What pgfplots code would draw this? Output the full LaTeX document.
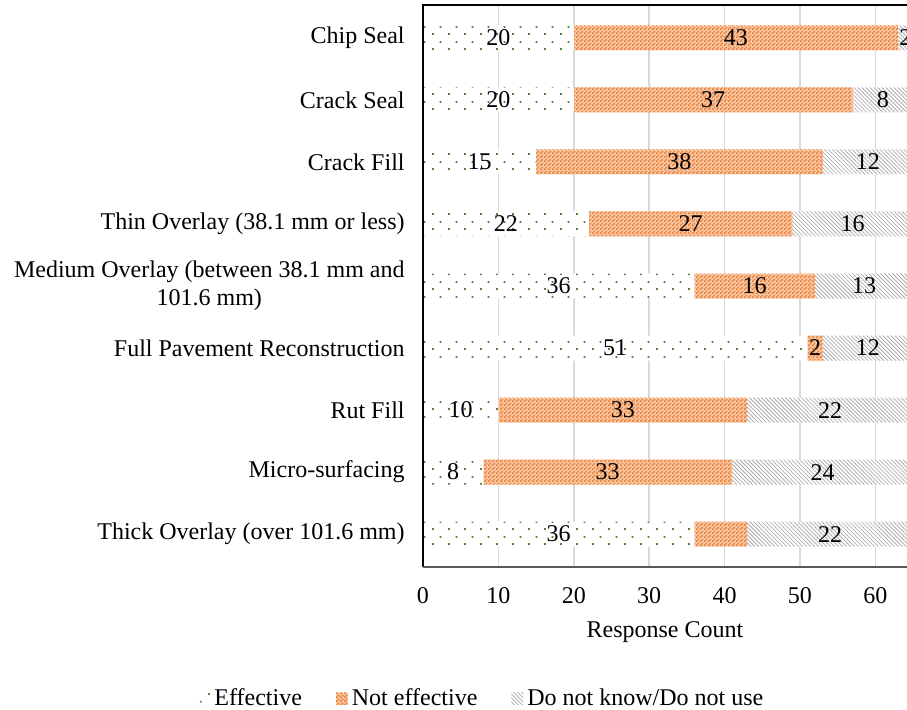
\documentclass[border=0pt]{standalone}
\usepackage{fontspec}
\setmainfont{Liberation Serif}
\usepackage{pgfplots}
\pgfplotsset{compat=1.18}
\usepackage{pgfplotstable}
\usetikzlibrary{patterns,patterns.meta}

\definecolor{orangeC}{RGB}{237,125,49}
\definecolor{greenC}{RGB}{84,130,53}
\definecolor{grayC}{RGB}{170,170,170}

\pgfdeclarepattern{
  name=effdots,
  type=uncolored,
  bottom left={\pgfpoint{0pt}{0pt}},
  top right={\pgfpoint{8pt}{7.5pt}},
  tile size={\pgfpoint{8pt}{7.5pt}},
  code={
    \pgfpathrectangle{\pgfpoint{0pt}{0pt}}{\pgfpoint{1pt}{1pt}}
    \pgfpathrectangle{\pgfpoint{4pt}{3.75pt}}{\pgfpoint{1pt}{1pt}}
    \pgfusepath{fill}
  }
}
\pgfdeclarepattern{
  name=checker,
  type=uncolored,
  bottom left={\pgfpoint{0pt}{0pt}},
  top right={\pgfpoint{2pt}{2pt}},
  tile size={\pgfpoint{2pt}{2pt}},
  code={
    \pgfpathrectangle{\pgfpoint{0pt}{0pt}}{\pgfpoint{1pt}{1pt}}
    \pgfpathrectangle{\pgfpoint{1pt}{1pt}}{\pgfpoint{1pt}{1pt}}
    \pgfusepath{fill}
  }
}

\pgfplotstableread{
pos eff not dk
0 20 43 2
1 20 37 8
2 15 38 12
3 22 27 16
4 36 16 13
5 51 2 12
6 10 33 22
7 8 33 24
8 36 7 22
}\datatable

\pgfplotstableread{
x y lab
10 0 20
41.5 0 43
64 0 2
10 1 20
38.5 1 37
61 1 8
7.5 2 15
34 2 38
59 2 12
11 3 22
35.5 3 27
57 3 16
18 4 36
44 4 16
58.5 4 13
25.5 5 51
52 5 2
59 5 12
5 6 10
26.5 6 33
54 6 22
4 7 8
24.5 7 33
53 7 24
18 8 36
54 8 22
}\labtable

\pgfplotsset{
  myleg/.style={legend image code/.code={\path[##1] (0pt,-3pt) rectangle (6pt,3pt);}},
}

\begin{document}
\fontsize{12}{14}\selectfont
\begin{tikzpicture}
\begin{axis}[
  name=main,
  scale only axis, width=242pt, height=281pt,
  xbar stacked, bar width=12.5pt,
  xmin=0, xmax=64.2, ymin=-0.53, ymax=8.53, y dir=reverse,
  ytick={0,...,8},
  yticklabels={Chip Seal, Crack Seal, Crack Fill, Thin Overlay (38.1 mm or less), {Medium Overlay (between 38.1 mm and\\101.6 mm)}, Full Pavement Reconstruction, Rut Fill, Micro-surfacing, Thick Overlay (over 101.6 mm)},
  xtick={0,10,...,60},
  major tick length=0pt,
  axis line style={draw=none},
  xmajorgrids, grid style={line width=0.75pt, color=gray!30},
  xticklabel style={yshift=-6pt},
  yticklabel style={align=center, xshift=-5pt},
  /pgf/number format/assume math mode=true,
  xlabel={Response Count},
  xlabel style={at={(axis description cs:0.5,-0.1263)}, anchor=base},
  legend style={at={(axis description cs:-0.4772,-0.2340)}, anchor=west, draw=none, fill=none,
    legend columns=3, /tikz/every even column/.append style={column sep=15pt},
    nodes={inner sep=2pt}},
  legend cell align=left,
]
\addplot[draw=none, fill=white, postaction={pattern=effdots, pattern color=greenC}, myleg] table[x=eff, y=pos]{\datatable};
\addplot[draw=none, fill=orangeC!45, postaction={pattern=checker, pattern color=orangeC}, myleg] table[x=not, y=pos]{\datatable};
\addplot[draw=none, fill=white, postaction={pattern={Lines[angle=-45, distance=1.41pt, line width=0.4pt]}, pattern color=grayC}, myleg] table[x=dk, y=pos]{\datatable};
\legend{Effective, Not effective, Do not know/Do not use}
\end{axis}
\draw[black, line width=1pt] (main.south west) -- (main.north west) -- (main.north east);
\draw[black!65, line width=1pt] (main.south west) -- (main.south east);
\begin{axis}[
  scale only axis, width=242pt, height=281pt,
  at={(main.south west)}, anchor=south west,
  xmin=0, xmax=64.2, ymin=-0.53, ymax=8.53, y dir=reverse,
  hide axis, clip=false,
  nodes near coords, point meta=explicit symbolic,
  every node near coord/.append style={anchor=center, inner sep=0pt, text=black},
]
\addplot[only marks, mark=*, mark size=0pt, mark options={draw=none, fill=none}] table[x=x, y=y, meta=lab]{\labtable};
\end{axis}
\pgfresetboundingbox
\path[use as bounding box] ([yshift=2.5pt]main.north east) rectangle ([xshift=-453.5pt, yshift=-352pt]main.north east);
\end{tikzpicture}
\end{document}
